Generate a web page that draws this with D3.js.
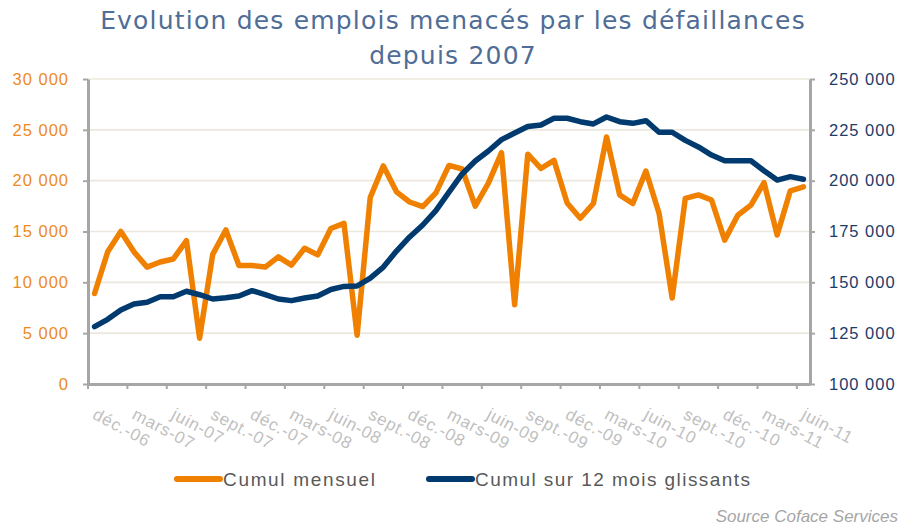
<!DOCTYPE html>
<html lang="fr">
<head>
<meta charset="UTF-8"/>
<title>Evolution des emplois menacés</title>
<script src="https://d3js.org/d3.v7.min.js"></script>
<style type="text/css">
  body { margin: 0; background: #fff; }
  svg { display: block; font-family: "DejaVu Sans", Verdana, sans-serif; }
  .line { fill: none; stroke-width: 5.5; stroke-linejoin: round; stroke-linecap: round; }
  .axis path, .axis line { stroke: #a6a6a6; }
  .axis path { stroke-width: 3; }
  .axis line { stroke-width: 2; }
  .grid line { stroke: #ece8de; stroke-width: 1.6; }
</style>
</head>
<body>
<script>

// months, déc. 2006 -> juin 2011
var categories = [
  "déc.-06","janv.-07","févr.-07","mars-07","avr.-07","mai-07","juin-07","juil.-07","août-07","sept.-07","oct.-07","nov.-07",
  "déc.-07","janv.-08","févr.-08","mars-08","avr.-08","mai-08","juin-08","juil.-08","août-08","sept.-08","oct.-08","nov.-08",
  "déc.-08","janv.-09","févr.-09","mars-09","avr.-09","mai-09","juin-09","juil.-09","août-09","sept.-09","oct.-09","nov.-09",
  "déc.-09","janv.-10","févr.-10","mars-10","avr.-10","mai-10","juin-10","juil.-10","août-10","sept.-10","oct.-10","nov.-10",
  "déc.-10","janv.-11","févr.-11","mars-11","avr.-11","mai-11","juin-11"
];

// Cumul mensuel (left axis)
var mensuel = [
  8900, 13000, 15000, 13000, 11500, 12000, 12300, 14100, 4500, 12750, 15150, 11650,
  11650, 11500, 12500, 11700, 13350, 12700, 15300, 15800, 4800, 18350, 21450, 18900,
  17900, 17450, 18800, 21500, 21150, 17500, 19750, 22750, 7800, 22600, 21200, 22000,
  17800, 16300, 17750, 24300, 18600, 17750, 20950, 16800, 8450, 18250, 18600, 18100,
  14150, 16600, 17600, 19800, 14650, 19000, 19400
];

// Cumul sur 12 mois glissants (right axis)
var glissants = [
  128200, 131800, 136400, 139300, 140200, 142900, 142900, 145600, 143900, 141800, 142400, 143300,
  145900, 144000, 141800, 141000, 142300, 143300, 146500, 148000, 148200, 152100, 157500, 165400,
  172300, 178200, 185300, 194400, 203300, 209700, 214600, 220200, 223400, 226600, 227400, 230700,
  230700, 229000, 227900, 231300, 229000, 228200, 229500, 223800, 223800, 219800, 216600, 212600,
  209800, 209800, 209800, 204900, 200300, 202000, 200700
];

var leftTicks = [0, 5000, 10000, 15000, 20000, 25000, 30000];
var rightTicks = [100000, 125000, 150000, 175000, 200000, 225000, 250000];
var titleLines = ["Evolution des emplois menacés par les défaillances", "depuis 2007"];
var seriesNames = ["Cumul mensuel", "Cumul sur 12 mois glissants"];
var sourceText = "Source Coface Services";

var W = 904, H = 528;
var plot = {left: 88, right: 810, top: 79, bottom: 384};
var orange = "#f08000", navy = "#003a6e";

var svg = d3.select("body").append("svg")
    .attr("width", W)
    .attr("height", H);

// scales
var x = d3.scaleBand().domain(categories).range([plot.left, plot.right]);
var bw = x.bandwidth();
var cx = function(d) { return x(d) + bw / 2; };
var yL = d3.scaleLinear().domain([0, 30000]).range([plot.bottom, plot.top]);
var yR = d3.scaleLinear().domain([100000, 250000]).range([plot.bottom, plot.top]);

var fmt = function(v) { return d3.format(",")(v).replace(/,/g, " "); };

// title
svg.append("g").selectAll("text")
    .data(titleLines)
  .enter().append("text")
    .attr("x", 453)
    .attr("y", function(d, i) { return 29 + i * 35; })
    .attr("text-anchor", "middle")
    .attr("fill", "#4f6d96")
    .style("font-size", "25px")
    .style("letter-spacing", "1.2px")
    .text(function(d) { return d; });

// gridlines
svg.append("g").attr("class", "grid")
  .selectAll("line")
    .data(leftTicks.slice(1))
  .enter().append("line")
    .attr("x1", plot.left)
    .attr("x2", plot.right)
    .attr("y1", function(d) { return yL(d); })
    .attr("y2", function(d) { return yL(d); });

// lines
var lineL = d3.line()
    .x(function(d, i) { return cx(categories[i]); })
    .y(function(d) { return yL(d); });
var lineR = d3.line()
    .x(function(d, i) { return cx(categories[i]); })
    .y(function(d) { return yR(d); });

svg.append("path").datum(mensuel)
    .attr("class", "line")
    .attr("stroke", orange)
    .attr("d", lineL);

svg.append("path").datum(glissants)
    .attr("class", "line")
    .attr("stroke", navy)
    .attr("d", lineR);

// left axis
var gL = svg.append("g").attr("class", "axis")
    .attr("transform", "translate(" + plot.left + ",0)")
    .call(d3.axisLeft(yL).tickValues(leftTicks).tickFormat(fmt).tickSize(5).tickSizeOuter(0).tickPadding(14));
gL.selectAll("text").attr("fill", "#ee8a1f").style("font-size", "16.5px").style("letter-spacing", "1px");

// right axis
var gR = svg.append("g").attr("class", "axis")
    .attr("transform", "translate(" + plot.right + ",0)")
    .call(d3.axisRight(yR).tickValues(rightTicks).tickFormat(fmt).tickSize(5).tickSizeOuter(0).tickPadding(14));
gR.selectAll("text").attr("fill", "#1c3c6a").style("font-size", "16.5px").style("letter-spacing", "1px");

// x axis: ticks at band edges every 3 months, labels rotated
var xTicks = categories.filter(function(d, i) { return i % 3 === 0; });
var gX = svg.append("g").attr("class", "axis")
    .attr("transform", "translate(0," + plot.bottom + ")")
    .call(d3.axisBottom(x).tickValues(xTicks).tickSize(5).tickSizeOuter(0));
gX.selectAll(".tick line").attr("transform", "translate(" + (-bw / 2) + ",0)");
gX.selectAll(".tick text")
    .attr("fill", "#bfbfbf")
    .style("font-size", "17px")
    .style("letter-spacing", "0.8px")
    .attr("text-anchor", "start")
    .attr("y", 0)
    .attr("dy", 0)
    .attr("transform", "translate(-3,34) rotate(28)");

// legend
var legend = svg.append("g")
    .style("font-family", "'Liberation Sans Narrow', 'Liberation Sans', sans-serif")
    .style("font-size", "19px")
    .attr("fill", "#595959");
var legendItems = [
  {name: seriesNames[0], color: orange, x: 177, w: 152},
  {name: seriesNames[1], color: navy, x: 429, w: 275}
];
legendItems.forEach(function(d) {
  legend.append("line")
      .attr("x1", d.x).attr("x2", d.x + 43)
      .attr("y1", 479).attr("y2", 479)
      .attr("stroke", d.color)
      .attr("stroke-width", 6)
      .attr("stroke-linecap", "round");
  legend.append("text")
      .attr("x", d.x + 46)
      .attr("y", 486)
      .attr("textLength", d.w)
      .attr("lengthAdjust", "spacing")
      .text(d.name);
});

// source
svg.append("text")
    .attr("x", 898)
    .attr("y", 522)
    .attr("text-anchor", "end")
    .attr("fill", "#a6a6a6")
    .style("font-family", "'Liberation Sans Narrow', 'Liberation Sans', sans-serif")
    .style("font-style", "italic")
    .style("font-size", "17px")
    .text(sourceText);

</script>
</body>
</html>
